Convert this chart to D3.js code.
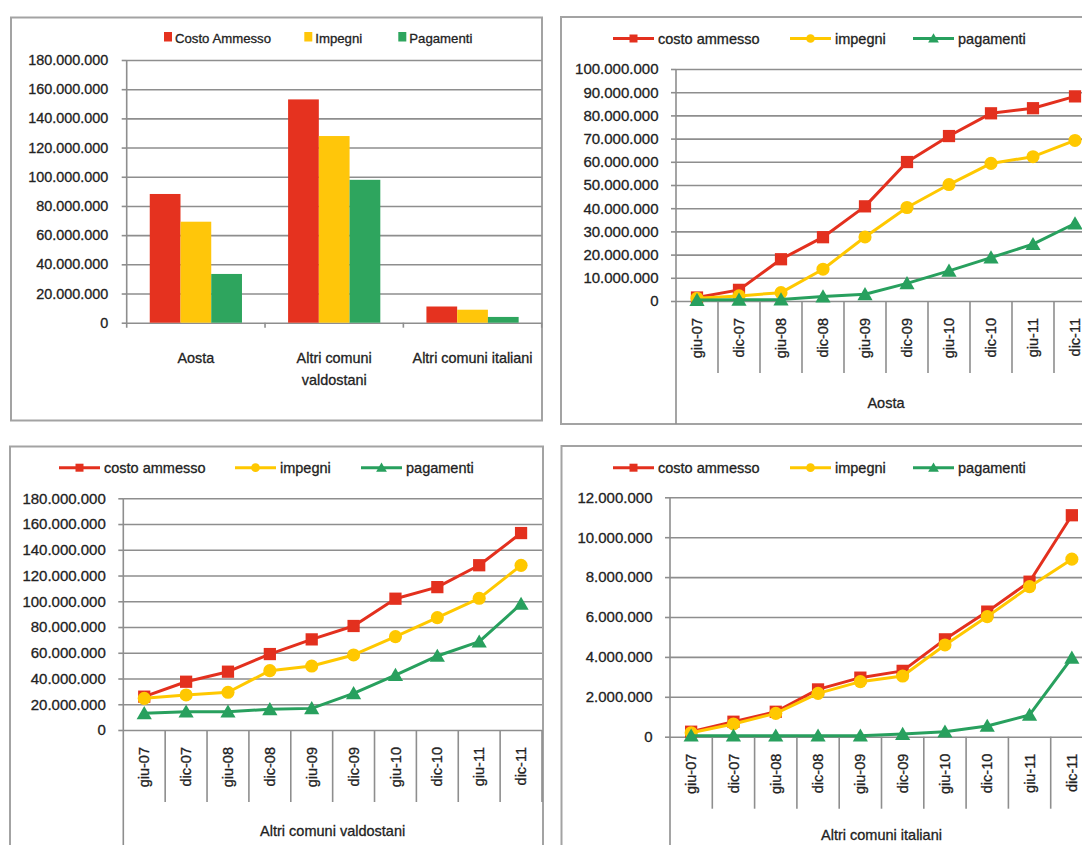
<!DOCTYPE html>
<html>
<head>
<meta charset="utf-8">
<script src="https://cdn.jsdelivr.net/npm/d3@7"></script>
<style>
  body { margin: 0; background: #fff; }
  svg { display: block; font-family: "Liberation Sans", Arial, sans-serif; }
  svg text { stroke: #222; stroke-width: 0.3px; }
</style>
</head>
<body>
<svg id="chart" width="1082" height="845"></svg>
<script>
// ---------------- DATA ----------------
const seriesNamesBar = ["Costo Ammesso", "Impegni", "Pagamenti"];
const seriesNamesLine = ["costo ammesso", "impegni", "pagamenti"];
const barCategories = ["Aosta", "Altri comuni valdostani", "Altri comuni italiani"];
const barCategoryLines = [["Aosta"], ["Altri comuni", "valdostani"], ["Altri comuni italiani"]];
const barCosto     = [88200000, 153000000, 11100000];
const barImpegni   = [69200000, 127900000, 8900000];
const barPagamenti = [33400000, 97900000, 3950000];

const periods = ["giu-07","dic-07","giu-08","dic-08","giu-09","dic-09","giu-10","dic-10","giu-11","dic-11"];

const aostaCosto     = [1500000, 4800000, 18000000, 27500000, 40800000, 59900000, 71100000, 80900000, 83100000, 88200000];
const aostaImpegni   = [1200000, 2200000, 3600000, 13700000, 27600000, 40300000, 50200000, 59300000, 62200000, 69200000];
const aostaPagamenti = [400000, 500000, 600000, 1900000, 2900000, 7600000, 13000000, 18700000, 24500000, 33400000];

const valdCosto     = [25900000, 37500000, 45300000, 59000000, 70400000, 80800000, 102000000, 111000000, 128000000, 153000000];
const valdImpegni   = [24600000, 27200000, 29300000, 46100000, 49700000, 58300000, 72500000, 87300000, 102300000, 127900000];
const valdPagamenti = [13000000, 14200000, 14200000, 16100000, 16800000, 28500000, 42700000, 57500000, 68600000, 97900000];

const itaCosto     = [250000, 750000, 1250000, 2370000, 2960000, 3300000, 4880000, 6270000, 7770000, 11100000];
const itaImpegni   = [200000, 640000, 1170000, 2170000, 2760000, 3040000, 4600000, 6020000, 7520000, 8900000];
const itaPagamenti = [50000, 50000, 50000, 50000, 50000, 130000, 250000, 540000, 1090000, 3950000];

const barTicks   = [0, 20000000, 40000000, 60000000, 80000000, 100000000, 120000000, 140000000, 160000000, 180000000];
const aostaTicks = [0, 10000000, 20000000, 30000000, 40000000, 50000000, 60000000, 70000000, 80000000, 90000000, 100000000];
const valdTicks  = [0, 20000000, 40000000, 60000000, 80000000, 100000000, 120000000, 140000000, 160000000, 180000000];
const itaTicks   = [0, 2000000, 4000000, 6000000, 8000000, 10000000, 12000000];

// ---------------- STYLE ----------------
const colors = ["#E5321F", "#FFC60A", "#2EA55E"];
const lineColors = ["#E3301E", "#FFC800", "#28A05E"];
const textColor = "#222";
const gridColor = "#8e8e8e";
const frameColor = "#a3a3a3";
const symbols = [d3.symbolSquare, d3.symbolCircle, d3.symbolTriangle];
const markerSizes = [150, 135, 100];
const legendMarkerSizes = [64, 60, 50];

const itLocale = d3.formatLocale({decimal: ",", thousands: ".", grouping: [3], currency: ["€", ""]});
const fmt = itLocale.format(",d");

const svg = d3.select("#chart");

function frame(x0, y0, x1, y1) {
  svg.append("rect").attr("x", x0).attr("y", y0).attr("width", x1 - x0).attr("height", y1 - y0)
    .attr("fill", "#fff").attr("stroke", frameColor).attr("stroke-width", 2);
}

function yAxisWithGrid(g, y, ticks, xAxis, xRight, fontSize, padding) {
  g.append("g").attr("transform", `translate(${xAxis},0)`)
    .call(d3.axisRight(y).tickValues(ticks).tickSize(xRight - xAxis).tickFormat(""))
    .call(s => s.select(".domain").remove())
    .call(s => s.selectAll("line").attr("stroke", gridColor).attr("stroke-width", 1.6));
  g.append("g").attr("transform", `translate(${xAxis},0)`)
    .call(d3.axisLeft(y).tickValues(ticks).tickSize(5).tickPadding(padding).tickFormat(fmt))
    .call(s => s.select(".domain").remove())
    .call(s => s.selectAll("line").attr("stroke", gridColor).attr("stroke-width", 1.6))
    .call(s => s.selectAll("text").attr("fill", textColor).attr("font-size", fontSize).attr("font-family", null));
}

// ---------------- PANEL 1: BAR CHART ----------------
(function () {
  frame(11, 17.5, 542, 420.5);
  const g = svg.append("g");
  const left = 126.7, right = 541.7, top = 60, bottom = 322.7;
  const x0 = d3.scaleBand().domain(barCategories).range([left, right]).padding(0);
  const x1 = d3.scaleBand().domain(seriesNamesBar).range([0, x0.bandwidth()]).paddingInner(0).paddingOuter(0.75);
  const y = d3.scaleLinear().domain([0, 180000000]).range([bottom, top]);
  yAxisWithGrid(g, y, barTicks, left, right, 14.4, 13.5);

  const values = [barCosto, barImpegni, barPagamenti];
  seriesNamesBar.forEach((s, si) => {
    g.append("g").selectAll("rect").data(barCategories).join("rect")
      .attr("x", c => x0(c) + x1(s))
      .attr("width", x1.bandwidth())
      .attr("y", (c, i) => y(values[si][i]))
      .attr("height", (c, i) => bottom - y(values[si][i]))
      .attr("fill", colors[si]);
  });
  g.append("line").attr("x1", left).attr("x2", left).attr("y1", top).attr("y2", bottom + 5)
    .attr("stroke", gridColor).attr("stroke-width", 1.6);
  const bounds = barCategories.map(c => x0(c)).concat([x0(barCategories[2]) + x0.bandwidth()]);
  g.selectAll(".ctick").data(bounds.slice(1)).join("line")
    .attr("x1", d => d).attr("x2", d => d).attr("y1", bottom).attr("y2", bottom + 5)
    .attr("stroke", gridColor).attr("stroke-width", 1.6);
  barCategories.forEach((c, i) => {
    const t = g.append("text").attr("x", x0(c) + x0.bandwidth() / 2).attr("y", 363)
      .attr("text-anchor", "middle").attr("font-size", 14.4).attr("fill", textColor);
    barCategoryLines[i].forEach((ln, li) => {
      t.append("tspan").attr("x", x0(c) + x0.bandwidth() / 2).attr("dy", li === 0 ? 0 : 22).text(ln);
    });
  });
  const legX = [164, 304.3, 398.3];
  seriesNamesBar.forEach((s, i) => {
    g.append("rect").attr("x", legX[i]).attr("y", 32).attr("width", 8).attr("height", 9.5).attr("fill", colors[i]);
    g.append("text").attr("x", legX[i] + 11).attr("y", 42.5).attr("font-size", 13.2)
      .attr("fill", textColor).text(s);
  });
})();

// ---------------- LINE PANELS ----------------
function linePanel(cfg) {
  frame(cfg.box[0], cfg.box[1], cfg.box[2], cfg.box[3]);
  const g = svg.append("g");
  const x = d3.scaleBand().domain(periods).range([cfg.left, cfg.right]).padding(0);
  const y = d3.scaleLinear().domain([0, cfg.max]).range([cfg.bottom, cfg.top]);
  yAxisWithGrid(g, y, cfg.ticks, cfg.left, cfg.right, 15, 12.5);

  g.append("line").attr("x1", cfg.left).attr("x2", cfg.left).attr("y1", cfg.top).attr("y2", cfg.box[3])
    .attr("stroke", gridColor).attr("stroke-width", 1.6);
  const bounds = periods.map(p => x(p)).concat([x(periods[periods.length - 1]) + x.bandwidth()]);
  g.selectAll(".cdiv").data(bounds.slice(1)).join("line")
    .attr("x1", d => d).attr("x2", d => d).attr("y1", cfg.bottom).attr("y2", cfg.bottom + 72)
    .attr("stroke", gridColor).attr("stroke-width", 1.6);
  g.selectAll(".plab").data(periods).join("text")
    .attr("transform", p => `translate(${x(p) + x.bandwidth() / 2},${cfg.bottom + 17}) rotate(-90)`)
    .attr("text-anchor", "end").attr("dy", "0.35em")
    .attr("font-size", 14.5).attr("fill", textColor).text(p => p);
  g.append("text").attr("x", (cfg.left + cfg.right) / 2).attr("y", cfg.bottom + cfg.titleOffset)
    .attr("text-anchor", "middle").attr("font-size", 14.5).attr("fill", textColor).text(cfg.title);

  const line = d3.line().x((d, i) => x(periods[i]) + x.bandwidth() / 2).y(d => y(d));
  cfg.series.forEach((vals, si) => {
    g.append("path").attr("d", line(vals)).attr("fill", "none")
      .attr("stroke", lineColors[si]).attr("stroke-width", 3).attr("stroke-linejoin", "round");
    g.append("g").selectAll("path").data(vals).join("path")
      .attr("transform", (d, i) => `translate(${x(periods[i]) + x.bandwidth() / 2},${y(d) + (si === 2 ? 1.5 : 0)})`)
      .attr("d", d3.symbol(symbols[si], markerSizes[si])())
      .attr("fill", lineColors[si]);
  });

  seriesNamesLine.forEach((s, i) => {
    const lx = cfg.legend[i];
    g.append("line").attr("x1", lx).attr("x2", lx + 41).attr("y1", cfg.legendY).attr("y2", cfg.legendY)
      .attr("stroke", lineColors[i]).attr("stroke-width", 3);
    g.append("path").attr("transform", `translate(${lx + 20.5},${cfg.legendY + (i === 2 ? 1 : 0)})`)
      .attr("d", d3.symbol(symbols[i], legendMarkerSizes[i])()).attr("fill", lineColors[i]);
    g.append("text").attr("x", lx + 45).attr("y", cfg.legendY + 5).attr("font-size", 14.5)
      .attr("fill", textColor).text(s);
  });
}

linePanel({
  box: [561, 17, 1100, 424], left: 676, right: 1096, top: 69, bottom: 301,
  max: 100000000, ticks: aostaTicks, title: "Aosta", titleOffset: 107,
  series: [aostaCosto, aostaImpegni, aostaPagamenti],
  legend: [613, 790, 913], legendY: 38.5
});

linePanel({
  box: [10, 446.5, 543, 870], left: 123.3, right: 542, top: 498.3, bottom: 730,
  max: 180000000, ticks: valdTicks, title: "Altri comuni valdostani", titleOffset: 106,
  series: [valdCosto, valdImpegni, valdPagamenti],
  legend: [59, 235, 361], legendY: 467.7
});

linePanel({
  box: [561.5, 446, 1100, 870], left: 670, right: 1093, top: 497.3, bottom: 736.7,
  max: 12000000, ticks: itaTicks, title: "Altri comuni italiani", titleOffset: 103,
  series: [itaCosto, itaImpegni, itaPagamenti],
  legend: [613, 790, 913], legendY: 467.7
});
</script>
</body>
</html>
